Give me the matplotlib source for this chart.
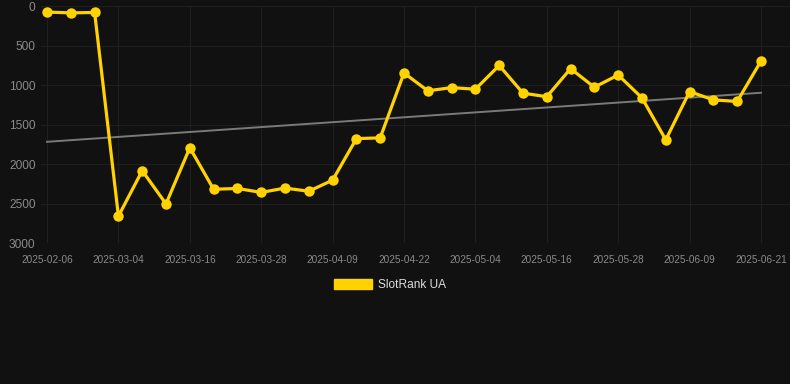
import matplotlib
matplotlib.use("Agg")
import matplotlib.pyplot as plt
from matplotlib.patches import Patch

# rank values, one point per category step (labels on every 3rd step)
ranks = [75, 85, 80, 2655, 2080, 2500, 1790, 2315, 2305, 2355, 2300, 2340,
         2200, 1675, 1665, 845, 1070, 1030, 1050, 750, 1100, 1145, 790,
         1025, 870, 1160, 1690, 1080, 1185, 1205, 695]
tick_labels = ["2025-02-06", "2025-03-04", "2025-03-16", "2025-03-28",
               "2025-04-09", "2025-04-22", "2025-05-04", "2025-05-16",
               "2025-05-28", "2025-06-09", "2025-06-21"]
trend_ends = [1715, 1095]
series_name = "SlotRank UA"

BG = "#111111"
YELLOW = "#FFD200"
GRID = "#1f1f1f"
TICK = "#8a8a8a"

plt.rcParams["font.family"] = ["Liberation Sans", "DejaVu Sans"]

fig = plt.figure(figsize=(7.9, 3.84), dpi=100, facecolor=BG)
ax = fig.add_axes([0.052, 0.366, 0.948, 0.618], facecolor=BG)

x = list(range(len(ranks)))
ax.plot([x[0], x[-1]], trend_ends, color="#7a7a7a", lw=1.4, zorder=2)
ax.plot(x, ranks, color=YELLOW, lw=2.3, marker="o", markersize=7.5,
        markeredgewidth=0, zorder=3)

ax.set_xlim(-0.25, len(ranks) - 1 + 1.22)
ax.set_ylim(3000, 0)
ax.set_yticks([0, 500, 1000, 1500, 2000, 2500, 3000])
ax.set_xticks(x[::3])
ax.set_xticklabels(tick_labels)

ax.grid(True, color=GRID, lw=0.8)
ax.set_axisbelow(True)
for s in ax.spines.values():
    s.set_visible(False)
ax.tick_params(axis="y", colors=TICK, labelsize=8.6, length=0, pad=4)
ax.tick_params(axis="x", colors=TICK, labelsize=7.2, length=0, pad=8.5)

handle = Patch(facecolor=YELLOW, edgecolor=YELLOW)
fig.legend([handle], [series_name], loc="center", bbox_to_anchor=(0.494, 0.258),
           frameon=False, fontsize=8.6, labelcolor="#dddddd",
           handlelength=3.2, handleheight=0.95, handletextpad=0.5)

fig.savefig("out.png", dpi=100, facecolor=BG)
